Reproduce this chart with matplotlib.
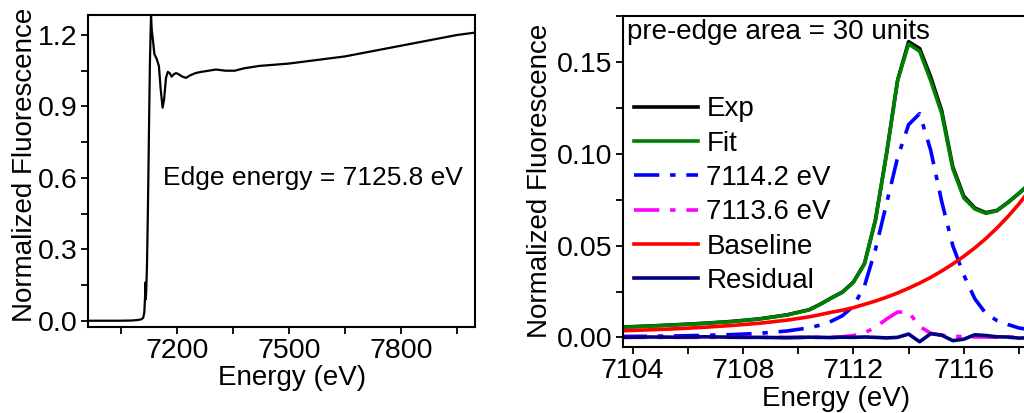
import matplotlib
matplotlib.use("Agg")
import matplotlib.pyplot as plt
from matplotlib.ticker import MultipleLocator, FormatStrFormatter

plt.rcParams["font.family"] = ["Liberation Sans", "DejaVu Sans"]
plt.rcParams["font.size"] = 20

# ---- full XANES spectrum (left) ----
xanes_energy = [6965, 7000, 7050, 7080, 7095, 7105, 7110, 7113, 7115, 7116, 7117,
                7118, 7120, 7122, 7124, 7126, 7128, 7130, 7131, 7133, 7136, 7140,
                7146, 7152, 7157, 7162, 7166, 7171, 7176, 7181, 7186, 7192, 7198,
                7205, 7215, 7225, 7235, 7250, 7265, 7285, 7305, 7330, 7355, 7380,
                7420, 7460, 7500, 7550, 7600, 7650, 7700, 7750, 7800, 7850, 7900,
                7950, 7998]
xanes_mu = [0.000, 0.000, 0.000, 0.001, 0.003, 0.006, 0.012, 0.035, 0.10, 0.16, 0.09,
            0.12, 0.22, 0.40, 0.62, 0.86, 1.08, 1.22, 1.28, 1.22, 1.18, 1.12,
            1.10, 1.07, 0.97, 0.895, 0.93, 1.02, 1.045, 1.04, 1.025, 1.035, 1.04,
            1.035, 1.025, 1.02, 1.03, 1.04, 1.045, 1.05, 1.055, 1.05, 1.05, 1.06,
            1.07, 1.075, 1.08, 1.09, 1.10, 1.11, 1.125, 1.14, 1.155, 1.17, 1.185,
            1.20, 1.21]
edge_label = "Edge energy = 7125.8 eV"

# ---- pre-edge fit (right) ----
pre_energy = [7103.6, 7104.6, 7105.6, 7106.6, 7107.6, 7108.6, 7109.6, 7110.4,
              7110.8, 7111.2, 7111.6, 7112.0, 7112.4, 7112.8, 7113.2, 7113.6,
              7114.0, 7114.4, 7114.8, 7115.2, 7115.6, 7116.0, 7116.4, 7116.8,
              7117.2, 7117.6, 7118.0, 7118.4]
exp_mu = [0.0056, 0.0062, 0.0069, 0.0077, 0.0087, 0.0101, 0.0123, 0.0151,
          0.0181, 0.0215, 0.0247, 0.0302, 0.0402, 0.0642, 0.1002, 0.1402,
          0.1612, 0.1575, 0.1420, 0.1235, 0.0930, 0.0770, 0.0705, 0.0680,
          0.0692, 0.0736, 0.0786, 0.0840]
fit_mu = [0.0055, 0.0061, 0.0068, 0.0076, 0.0086, 0.0100, 0.0122, 0.0150,
          0.0180, 0.0215, 0.0245, 0.0300, 0.0400, 0.0640, 0.1000, 0.1400,
          0.1600, 0.1560, 0.1400, 0.1220, 0.0920, 0.0760, 0.0700, 0.0676,
          0.0690, 0.0735, 0.0785, 0.0840]
peak1_mu = [0.0005, 0.0006, 0.0008, 0.0011, 0.0015, 0.0022, 0.0035, 0.0052,
            0.0067, 0.0088, 0.0118, 0.0170, 0.0280, 0.0480, 0.0730, 0.0980,
            0.1160, 0.1220, 0.1020, 0.0740, 0.0500, 0.0340, 0.0210, 0.0130,
            0.0092, 0.0070, 0.0051, 0.0042]
peak2_mu = [0.0, 0.0, 0.0, 0.0, 0.0, 0.0, 0.0, 0.0,
            0.0, 0.0, 0.0003, 0.0010, 0.0024, 0.0055, 0.0100, 0.0138,
            0.0138, 0.0060, 0.0022, 0.0012, 0.0006, 0.0004, 0.0002, 0.0002,
            0.0001, 0.0, 0.0, 0.0]
baseline_mu = [0.0036, 0.0041, 0.0047, 0.0055, 0.0065, 0.0077, 0.0094, 0.0112,
               0.0124, 0.0137, 0.0148, 0.0162, 0.0180, 0.0198, 0.0219, 0.0242,
               0.0268, 0.0296, 0.0327, 0.0362, 0.0400, 0.0442, 0.0488, 0.0539,
               0.0596, 0.0659, 0.0728, 0.0805]
residual_mu = [0.0000, 0.0002, 0.0001, 0.0003, 0.0001, 0.0000, -0.0002, 0.0001,
               0.0000, -0.0001, 0.0001, 0.0000, 0.0002, 0.0000, -0.0003, 0.0000,
               0.0018, -0.0024, 0.0020, 0.0012, -0.0018, -0.0010, 0.0014, 0.0010,
               0.0003, 0.0002, -0.0004, -0.0002]
series_labels = ["Exp", "Fit", "7114.2 eV", "7113.6 eV", "Baseline", "Residual"]
area_label = "pre-edge area = 30 units"


def style_axes(ax):
    for s in ax.spines.values():
        s.set_linewidth(1.5)
    ax.tick_params(which="both", direction="out", width=1.3, labelsize=20.5)
    ax.tick_params(which="major", length=5, pad=3)
    ax.tick_params(which="minor", length=5)
    ax.tick_params(axis="y", pad=2.5)


fig = plt.figure(figsize=(10.24, 4.13), dpi=100)

ax1 = fig.add_axes([0.0862, 0.209, 0.3776, 0.7547])
ax1.plot(xanes_energy, xanes_mu, color="black", lw=1.6)
ax1.set_xlim(6963, 7998)
ax1.set_ylim(-0.025, 1.284)
ax1.xaxis.set_major_locator(MultipleLocator(300))
ax1.xaxis.set_minor_locator(MultipleLocator(150))
ax1.yaxis.set_major_locator(MultipleLocator(0.3))
ax1.yaxis.set_minor_locator(MultipleLocator(0.15))
ax1.yaxis.set_major_formatter(FormatStrFormatter("%.1f"))
style_axes(ax1)
ax1.set_xlabel("Energy (eV)", fontsize=20)
ax1.set_ylabel("Normalized Fluorescence", fontsize=20)
ax1.xaxis.set_label_coords(0.526, -0.122)
ax1.yaxis.set_label_coords(-0.13, 0.52)
ax1.text(7164, 0.60, edge_label, fontsize=19, ha="left", va="center")

ax2 = fig.add_axes([0.6084, 0.1605, 0.3975, 0.8015])
ax2.plot(pre_energy, exp_mu, color="black", lw=2.6, label=series_labels[0])
ax2.plot(pre_energy, fit_mu, color="#008000", lw=2.6, label=series_labels[1])
ax2.plot(pre_energy, peak1_mu, color="#0000ff", lw=2.6,
         linestyle=(0, (7, 3, 1.5, 3)), label=series_labels[2])
ax2.plot(pre_energy, peak2_mu, color="#ff00ff", lw=2.6,
         linestyle=(0, (7, 3, 1.5, 3)), label=series_labels[3])
ax2.plot(pre_energy, baseline_mu, color="#ff0000", lw=2.6, label=series_labels[4])
ax2.plot(pre_energy, residual_mu, color="#000080", lw=2.6, label=series_labels[5])
ax2.set_xlim(7103.65, 7118.4)
ax2.set_ylim(-0.0051, 0.1754)
ax2.xaxis.set_major_locator(MultipleLocator(4))
ax2.xaxis.set_minor_locator(MultipleLocator(2))
ax2.yaxis.set_major_locator(MultipleLocator(0.05))
ax2.yaxis.set_minor_locator(MultipleLocator(0.025))
ax2.yaxis.set_major_formatter(FormatStrFormatter("%.2f"))
style_axes(ax2)
ax2.set_xlabel("Energy (eV)", fontsize=20)
ax2.set_ylabel("Normalized Fluorescence", fontsize=20)
ax2.xaxis.set_label_coords(0.523, -0.119)
ax2.yaxis.set_label_coords(-0.172, 0.5)
ax2.text(0.01, 0.99, area_label, transform=ax2.transAxes, fontsize=20,
         ha="left", va="top")
ax2.legend(loc="upper left", bbox_to_anchor=(0.0, 0.79), frameon=False,
           fontsize=20, handlelength=2.3, handletextpad=0.3, labelspacing=0.3,
           borderaxespad=0.0)

fig.savefig("out.png", dpi=100)
